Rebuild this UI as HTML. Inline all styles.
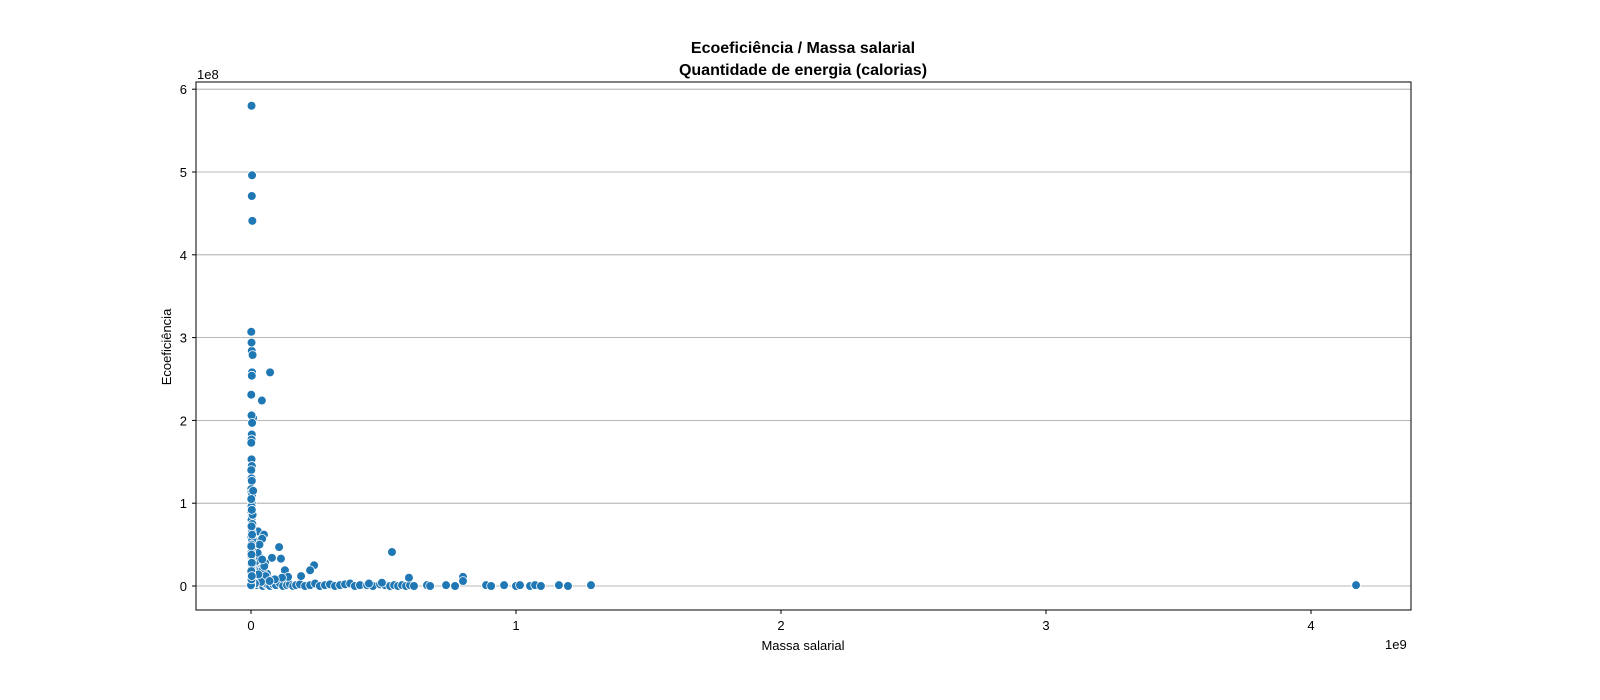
<!DOCTYPE html>
<html><head><meta charset="utf-8"><style>
html,body{margin:0;padding:0;background:#fff;overflow:hidden;width:1600px;height:700px}
svg{display:block;font-family:"Liberation Sans","DejaVu Sans",sans-serif}
</style></head><body>
<svg id="chart" width="1600" height="700" viewBox="0 0 1600 700">
<text x="803" y="53" text-anchor="middle" font-size="16" font-weight="bold">Ecoeficiência / Massa salarial</text>
<text x="803" y="75" text-anchor="middle" font-size="16" font-weight="bold">Quantidade de energia (calorias)</text>
<g id="grid"></g>
<g id="pts"></g>
<rect x="196" y="82" width="1215" height="528" fill="none" stroke="#000" stroke-width="1"/>
<g id="axes"></g>
<text x="197" y="79" font-size="13">1e8</text>
<text x="1385" y="649" font-size="13">1e9</text>
<text x="803" y="650" text-anchor="middle" font-size="13">Massa salarial</text>
<text transform="translate(171,347) rotate(-90)" text-anchor="middle" font-size="13">Ecoeficiência</text>
</svg>
<script>
// values in millions
const colX=[2,4,3,5,1,3,6,2,4,8,3,1,2,4,3,2,1,2,3,1,2,3,1,2,4,3,2,1,3,2,5,2,3,1,4,2,3,1,2,4,3,2,1,3,2,1,2,0,8,6,1,3,2,4,1,2,3,1,2,3];
const colY=[580,496,471,441,307,284,279,294,258,203,254,231,206,197,183,177,173,153,145,140,130,127,117,113,110,100,96,90,85,80,75,70,65,60,55,50,45,40,35,30,25,20,15,10,5,0,2,1,115,86,105,92,72,62,48,38,28,18,8,12];
const clX=[41,72,26,49,42,106,79,113,53,238,128,223,189,140,117,64,532,800,800,596,494,445,30,20,15,60,90,12,35,25,45,55,10,18,22,38,28,50,70,15,32,42];
const clY=[224,258,66,62,57,47,34,33,28,25,19,19,12,11,10,10,41,11,6,10,4,3,36,22,28,15,8,45,18,40,20,12,55,30,8,5,14,24,6,3,50,32];
const baseX=[8,19,34,45,57,64,72,83,94,109,121,136,147,159,170,185,204,223,242,260,279,298,317,336,355,374,392,411,438,460,487,506,525,540,555,570,585,600,615,664,676,736,770,887,906,955,1000,1015,1053,1072,1094,1162,1196,1283,4170];
const baseY=[2,1,3,0,2,1,0,2,1,3,0,1,2,0,1,2,0,1,3,0,1,2,0,1,2,3,0,1,1,0,2,1,0,1,0,1,0,1,0,1,0,1,0,1,0,1,0,1,0,1,0,1,0,1,1];
const yTicks=[0,1,2,3,4,5,6];
const xTicks=[0,1,2,3,4];
const sx=v=>251+v/1000*265;
const sy=v=>586-v/100*82.8;
const NS='http://www.w3.org/2000/svg';
const grid=document.getElementById('grid'),axes=document.getElementById('axes'),pts=document.getElementById('pts');
function mk(tag,attrs,parent){const e=document.createElementNS(NS,tag);for(const k in attrs)e.setAttribute(k,attrs[k]);parent.appendChild(e);return e;}
yTicks.forEach(t=>{const y=sy(t*100);
 const g=mk('line',{x1:196,x2:1411,y1:y,y2:y,stroke:'#a0a0a0','stroke-width':0.8},grid);
 
 
 mk('line',{x1:192,x2:196,y1:y,y2:y,stroke:'#000'},axes);
 const l=mk('text',{x:187,y:y+5,'text-anchor':'end','font-size':13},axes);l.textContent=t;
 
 
});
xTicks.forEach(t=>{const x=sx(t*1000);
 mk('line',{x1:x,x2:x,y1:610,y2:614,stroke:'#000'},axes);
 const l=mk('text',{x:x,y:630,'text-anchor':'middle','font-size':13},axes);l.textContent=t;
 
 
});
function draw(X,Y){X.forEach((v,i)=>{const c=mk('circle',{cx:sx(v),cy:sy(Y[i]),r:4.4,fill:'#1f77b4',stroke:'#fff','stroke-width':0.8},pts);
 
 });}
draw(baseX,baseY);draw(clX,clY);draw(colX,colY);
</script>
</body></html>
